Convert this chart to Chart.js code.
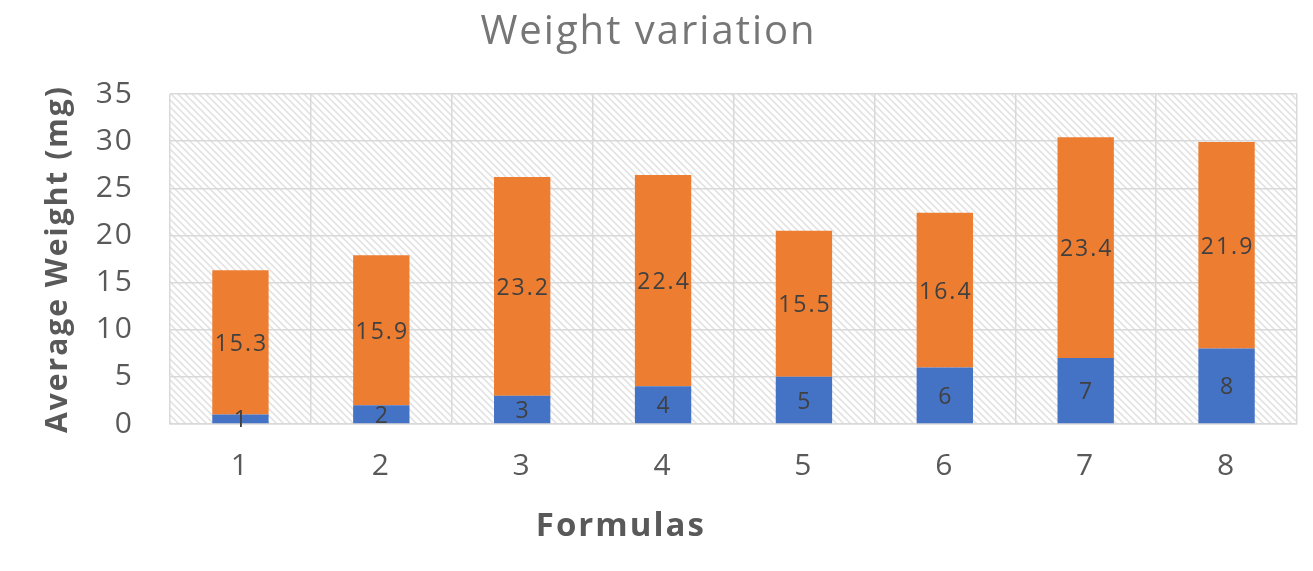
<!DOCTYPE html>
<html>
<head>
<meta charset="utf-8">
<script src="https://cdn.jsdelivr.net/npm/chart.js@4"></script>
<style>
html,body{margin:0;padding:0;background:#fff;}
#wrap{width:1313px;height:571px;}
</style>
</head>
<body>
<div id="wrap"><canvas id="c" width="1313" height="571"></canvas></div>
<script>
const categories = ['1','2','3','4','5','6','7','8'];
const formulaValues = [1, 2, 3, 4, 5, 6, 7, 8];
const weightValues = [15.3, 15.9, 23.2, 22.4, 15.5, 16.4, 23.4, 21.9];
const yTicks = [0, 5, 10, 15, 20, 25, 30, 35];
const xTitle = 'Formulas';

function makePattern(){
  const p = document.createElement('canvas');
  p.width = 7; p.height = 7;
  const g = p.getContext('2d');
  g.fillStyle = '#ffffff';
  g.fillRect(0,0,7,7);
  g.strokeStyle = '#e3e3e3';
  g.lineWidth = 1.6;
  g.beginPath();
  g.moveTo(-1,-1); g.lineTo(8,8);
  g.moveTo(-1,6); g.lineTo(1,8);
  g.moveTo(6,-1); g.lineTo(8,1);
  g.stroke();
  return g.createPattern(p,'repeat');
}

const spacingPlugin = {
  id:'spacing',
  beforeInit(chart){ chart.ctx.letterSpacing = '2px'; },
  beforeDraw(chart){ chart.ctx.letterSpacing = '2px'; }
};

const bgPlugin = {
  id:'bgPattern',
  beforeDraw(chart){
    const {ctx, chartArea:a} = chart;
    ctx.save();
    ctx.fillStyle = makePattern();
    ctx.fillRect(a.left, a.top, a.right-a.left, a.bottom-a.top);
    ctx.restore();
  }
};

const labelPlugin = {
  id:'barLabels',
  afterDatasetsDraw(chart){
    const ctx = chart.ctx;
    ctx.save();
    ctx.font = '23px "Open Sans"';
    ctx.fillStyle = '#404040';
    ctx.textAlign = 'center';
    ctx.textBaseline = 'middle';
    chart.data.datasets.forEach((ds, di) => {
      const meta = chart.getDatasetMeta(di);
      meta.data.forEach((el, i) => {
        const y = (el.y + el.base) / 2 + 2;
        ctx.fillText(String(ds.data[i]), el.x + 1, y);
      });
    });
    ctx.restore();
  }
};

const xTitlePlugin = {
  id:'xTitle',
  afterDraw(chart){
    const ctx = chart.ctx;
    const a = chart.chartArea;
    ctx.save();
    ctx.font = 'bold 33px "Open Sans"';
    ctx.fillStyle = '#595959';
    ctx.textAlign = 'center';
    ctx.textBaseline = 'middle';
    // title sits left of the plot centre in the reference
    const cx = a.left + (a.right - a.left) * 0.4;
    ctx.fillText(xTitle, cx, chart.height - 44);
    ctx.restore();
  }
};

new Chart(document.getElementById('c'), {
  type:'bar',
  data:{
    labels: categories,
    datasets:[
      {label:'Formula', data: formulaValues, backgroundColor:'#4472C4', categoryPercentage:1, barPercentage:0.4},
      {label:'Weight', data: weightValues, backgroundColor:'#ED7D31', categoryPercentage:1, barPercentage:0.4}
    ]
  },
  options:{
    responsive:false,
    animation:false,
    devicePixelRatio:1,
    layout:{padding:{left:0,right:16,top:0,bottom:0}},
    plugins:{
      legend:{display:false},
      tooltip:{enabled:false},
      title:{
        display:true,
        text:'Weight variation',
        color:'#767676',
        font:{family:'Open Sans', size:40, weight:'normal', lineHeight:1.2},
        padding:{top:9, bottom:37}
      }
    },
    scales:{
      x:{
        stacked:true,
        grid:{display:true, offset:true, color:'#d9d9d9', drawTicks:false, lineWidth:1.5},
        border:{display:true, color:'#d9d9d9', width:1.5},
        ticks:{color:'#595959', font:{family:'Open Sans', size:30}, padding:24},
        title:{display:false},
        afterFit(scale){ scale.height = 147; }
      },
      y:{
        stacked:true,
        min:0, max:35,
        afterBuildTicks(scale){ scale.ticks = yTicks.map(v => ({value:v})); },
        grid:{color:'#d9d9d9', drawTicks:false, lineWidth:1.5},
        border:{display:false},
        ticks:{color:'#595959', font:{family:'Open Sans', size:30}, padding:36},
        title:{display:true, text:'Average Weight (mg)', color:'#595959', font:{family:'Open Sans', size:30, weight:'bold', lineHeight:1.2}, padding:{top:40,bottom:0}},
        afterFit(scale){ scale.width = 170; }
      }
    }
  },
  plugins:[spacingPlugin, bgPlugin, labelPlugin, xTitlePlugin]
});
</script>
</body>
</html>
